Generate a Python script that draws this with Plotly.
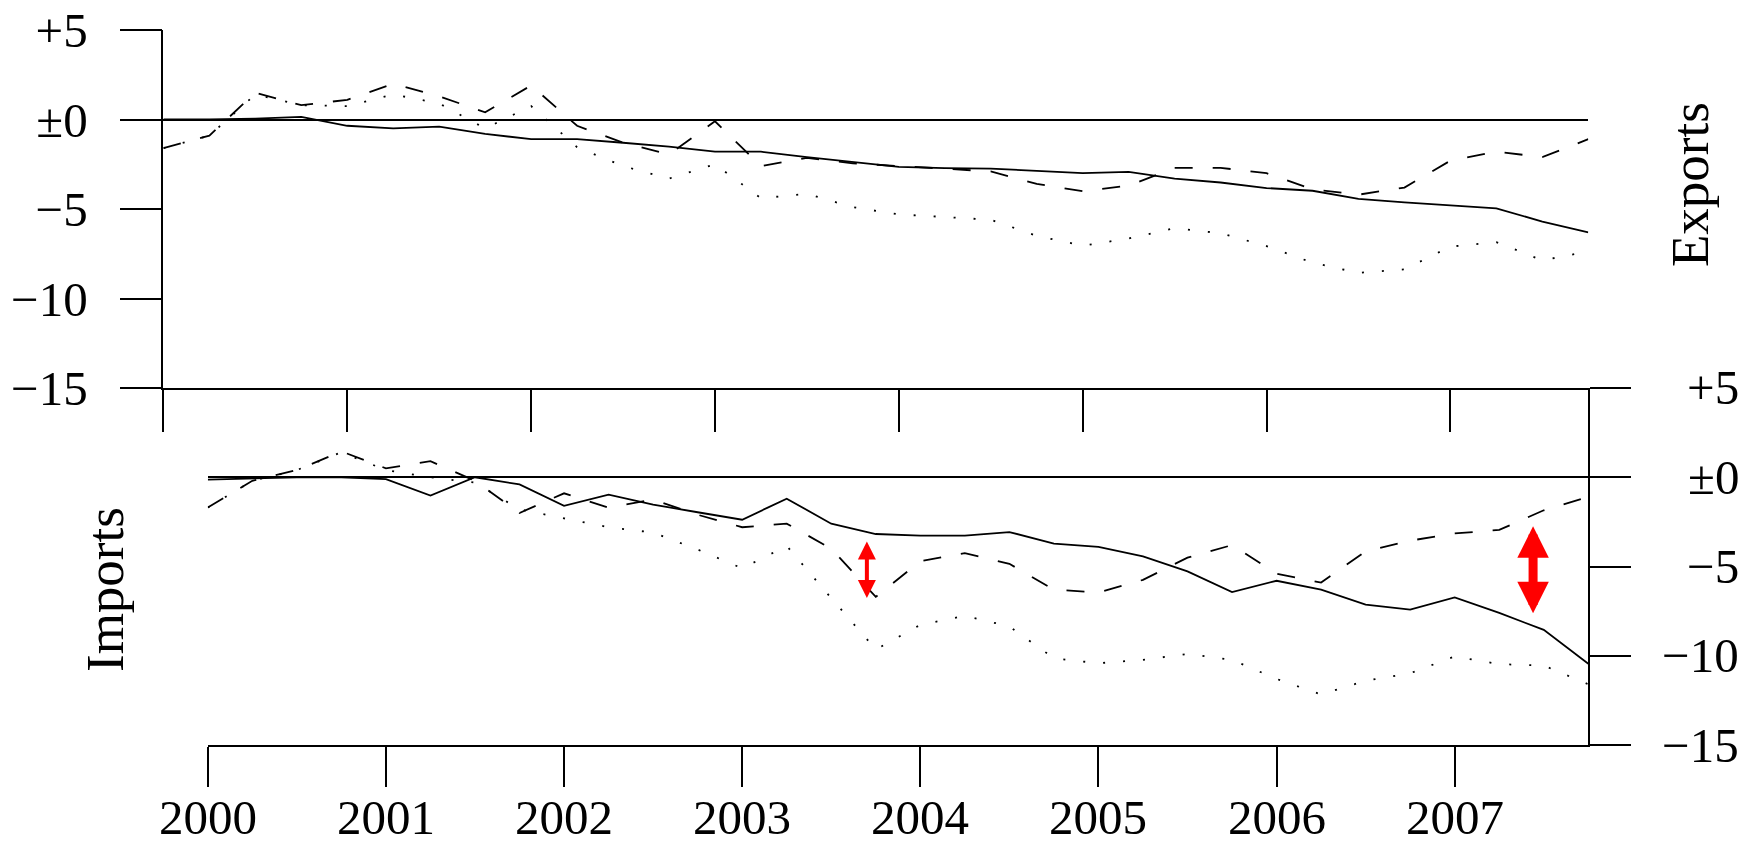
import plotly.graph_objects as go

# ---------------- data (quarterly, 2000Q1 .. 2007Q4) ----------------
quarters = [2000.00, 2000.25, 2000.50, 2000.75, 2001.00, 2001.25, 2001.50, 2001.75,
            2002.00, 2002.25, 2002.50, 2002.75, 2003.00, 2003.25, 2003.50, 2003.75,
            2004.00, 2004.25, 2004.50, 2004.75, 2005.00, 2005.25, 2005.50, 2005.75,
            2006.00, 2006.25, 2006.50, 2006.75, 2007.00, 2007.25, 2007.50, 2007.75]

exports_solid = [0.0, 0.0, 0.05, 0.15, -0.35, -0.5, -0.4, -0.8,
                 -1.1, -1.1, -1.3, -1.52, -1.8, -1.8, -2.1, -2.37,
                 -2.65, -2.72, -2.74, -2.87, -3.0, -2.93, -3.3, -3.52,
                 -3.83, -3.98, -4.44, -4.63, -4.81, -4.96, -5.7, -6.3]
exports_dashed = [-1.6, -0.9, 1.5, 0.8, 1.1, 2.0, 1.3, 0.4,
                  1.9, -0.35, -1.3, -1.95, -0.1, -2.6, -2.15, -2.45,
                  -2.6, -2.75, -2.9, -3.6, -4.0, -3.7, -2.7, -2.7,
                  -3.0, -3.9, -4.2, -3.8, -2.3, -1.8, -2.1, -1.1]
exports_dotted = [-1.6, -0.9, 1.4, 0.8, 0.75, 1.4, 0.9, -0.5,
                  0.75, -1.55, -2.6, -3.3, -2.5, -4.4, -4.15, -4.9,
                  -5.3, -5.45, -5.6, -6.5, -7.05, -6.65, -6.07, -6.35,
                  -7.07, -8.0, -8.57, -8.37, -7.1, -6.85, -7.87, -7.37]

imports_solid = [-0.13, -0.05, 0.0, 0.0, -0.1, -1.03, 0.0, -0.4,
                 -1.6, -0.97, -1.53, -1.96, -2.38, -1.2, -2.6, -3.18,
                 -3.27, -3.27, -3.07, -3.72, -3.9, -4.43, -5.27, -6.43,
                 -5.8, -6.3, -7.14, -7.42, -6.73, -7.6, -8.55, -10.45]
imports_dashed = [-1.7, -0.2, 0.4, 1.45, 0.5, 0.9, -0.2, -2.0,
                  -0.9, -1.7, -1.25, -2.1, -2.8, -2.6, -4.0, -6.7,
                  -4.7, -4.25, -4.85, -6.3, -6.45, -5.75, -4.5, -3.8,
                  -5.4, -5.9, -4.15, -3.55, -3.15, -2.95, -1.85, -1.1]
imports_dotted = [-1.7, -0.2, 0.4, 1.4, 0.4, 0.0, -0.3, -1.8,
                  -2.3, -2.8, -3.1, -4.05, -5.1, -3.85, -6.77, -9.65,
                  -8.27, -7.76, -8.36, -10.14, -10.42, -10.23, -9.9, -10.23,
                  -11.3, -12.17, -11.4, -10.98, -10.04, -10.47, -10.55, -11.6]

year_ticks = [2000, 2001, 2002, 2003, 2004, 2005, 2006, 2007]
year_labels = ["2000", "2001", "2002", "2003", "2004", "2005", "2006", "2007"]
y_ticks = [5, 0, -5, -10, -15]
y_labels = ["+5", "\u00b10", "\u22125", "\u221210", "\u221215"]

# red double-headed arrows in the imports panel
arrow_time = [2003.70, 2007.44]
arrow_top = [-3.6, -2.75]
arrow_bottom = [-6.85, -7.7]
arrow_width = [4, 9]
arrow_size = [0.9, 0.7]

# ---------------- figure ----------------
W, H = 1756, 848
FONT = "Liberation Serif"
LW = 1.8

def px_x(p):
    return p / W

def px_y(p):
    return 1 - p / H

fig = go.Figure()

styles = [("solid", exports_solid, imports_solid),
          ("18px,20px", exports_dashed, imports_dashed),
          ("2px,18px", exports_dotted, imports_dotted)]
for dash, ex, im in styles:
    fig.add_trace(go.Scatter(x=quarters, y=ex, mode="lines", xaxis="x", yaxis="y",
                             line=dict(color="black", width=LW, dash=dash),
                             showlegend=False, hoverinfo="skip"))
    fig.add_trace(go.Scatter(x=quarters, y=im, mode="lines", xaxis="x2", yaxis="y2",
                             line=dict(color="black", width=LW, dash=dash),
                             showlegend=False, hoverinfo="skip"))

x_end = quarters[-1]
axis_common = dict(showgrid=False, showline=True, linecolor="black", linewidth=LW,
                   ticks="outside", tickcolor="black", tickwidth=LW, automargin=False)

fig.update_layout(
    template="none",
    width=W, height=H,
    margin=dict(l=0, r=0, t=0, b=0, pad=0, autoexpand=False),
    paper_bgcolor="white", plot_bgcolor="white",
    showlegend=False,
    xaxis=dict(domain=[px_x(163.4), px_x(1588.3)], range=[2000, x_end], anchor="y",
               tickvals=year_ticks, showticklabels=False, ticklen=42,
               zeroline=False, **axis_common),
    yaxis=dict(domain=[px_y(388), px_y(30)], range=[-15, 5], anchor="x", side="left",
               tickvals=y_ticks, ticktext=y_labels, ticklen=42,
               tickfont=dict(family=FONT, size=49, color="black"),
               ticklabelstandoff=22,
               zeroline=True, zerolinecolor="black", zerolinewidth=LW, **axis_common),
    xaxis2=dict(domain=[px_x(207.8), px_x(1588.3)], range=[2000, x_end], anchor="y2",
                tickvals=year_ticks, showticklabels=False, ticklen=40,
                zeroline=False, **axis_common),
    yaxis2=dict(domain=[px_y(745), px_y(388)], range=[-15, 5], anchor="x2", side="right",
                tickvals=y_ticks, showticklabels=False, ticklen=41,
                zeroline=True, zerolinecolor="black", zerolinewidth=LW, **axis_common),
)

annotations = []
# year labels under the imports panel
for v, txt in zip(year_ticks, year_labels):
    annotations.append(dict(x=v, xref="x2", y=px_y(847), yref="paper", text=txt,
                            showarrow=False, xanchor="center", yanchor="bottom",
                            font=dict(family=FONT, size=49, color="black")))
# right-aligned tick labels of the imports axis
for v, txt in zip(y_ticks, y_labels):
    annotations.append(dict(x=px_x(1741), xref="paper", y=v, yref="y2", text=txt,
                            showarrow=False, xanchor="right", yanchor="middle",
                            font=dict(family=FONT, size=49, color="black")))
annotations.append(dict(x=px_x(1690), y=px_y(185), xref="paper", yref="paper",
                        text="Exports", textangle=-90, showarrow=False,
                        xanchor="center", yanchor="middle",
                        font=dict(family=FONT, size=53, color="black")))
annotations.append(dict(x=px_x(105), y=px_y(590), xref="paper", yref="paper",
                        text="Imports", textangle=-90, showarrow=False,
                        xanchor="center", yanchor="middle",
                        font=dict(family=FONT, size=53, color="black")))
for t, top, bot, w, s in zip(arrow_time, arrow_top, arrow_bottom, arrow_width, arrow_size):
    annotations.append(dict(x=t, y=top, ax=t, ay=bot, xref="x2", yref="y2",
                            axref="x2", ayref="y2", text="", showarrow=True,
                            arrowside="end+start", arrowhead=2, startarrowhead=2,
                            arrowsize=s, startarrowsize=s, arrowwidth=w,
                            arrowcolor="red", standoff=0, startstandoff=0))
fig.update_layout(annotations=annotations)

fig.write_html("out.html", config={"displayModeBar": False},
               post_script="document.body.style.margin='0px';document.body.style.overflow='hidden';")
